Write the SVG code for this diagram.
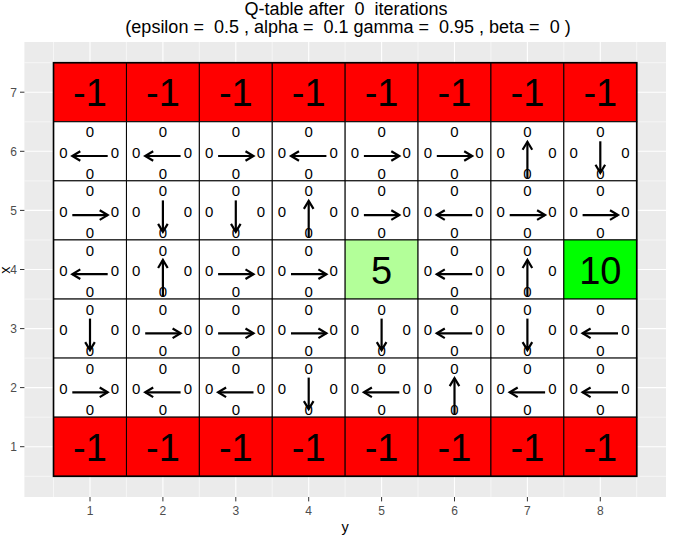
<svg xmlns="http://www.w3.org/2000/svg" width="682" height="542" viewBox="0 0 682 542">
<style>
text{font-family:"Liberation Sans",Arial,sans-serif;}
.title{font-size:18px;fill:#000;text-anchor:middle;white-space:pre;}
.tk{font-size:12px;fill:#4D4D4D;}
.at{font-size:14.5px;fill:#000;text-anchor:middle;}
.gmaj{stroke:#FFFFFF;stroke-width:1.1;}
.gmin{stroke:#FFFFFF;stroke-width:0.55;}
.tick{stroke:#333333;stroke-width:1;}
.cell{stroke:#000;stroke-width:1;}
.w{fill:#FFFFFF;}
.r{fill:#FF0000;}
.lg{fill:#B3FF99;}
.g{fill:#00FF00;}
.z{font-size:15px;fill:#000;text-anchor:middle;}
.big{font-size:38px;fill:#000;text-anchor:middle;}
.arr{stroke:#000;stroke-width:2.2;fill:none;marker-end:url(#ah);}
</style>
<defs>
<marker id="ah" markerUnits="userSpaceOnUse" markerWidth="20" markerHeight="20" refX="0" refY="0" orient="auto" overflow="visible">
<path d="M-8,-4.8 L0,0 L-8,4.8" fill="none" stroke="#000" stroke-width="2.2"/>
</marker>
<g id="zeros">
<text class="z" x="0" y="-14">0</text>
<text class="z" x="0" y="27.5">0</text>
<text class="z" x="-26.7" y="6.5">0</text>
<text class="z" x="25" y="6.5">0</text>
</g>
</defs>
<rect x="0" y="0" width="682" height="542" fill="#FFFFFF"/>
<text class="title" x="346" y="15" xml:space="preserve">Q-table after  0  iterations</text>
<text class="title" x="348" y="33" xml:space="preserve">(epsilon =  0.5 , alpha =  0.1 gamma =  0.95 , beta =  0 )</text>
<g id="panel">
<rect x="24.4" y="42" width="641.6" height="455" fill="#EBEBEB"/>
<g class="gmin">
<line x1="53.5" y1="42" x2="53.5" y2="497"/><line x1="126.4" y1="42" x2="126.4" y2="497"/><line x1="199.3" y1="42" x2="199.3" y2="497"/><line x1="272.2" y1="42" x2="272.2" y2="497"/><line x1="345.1" y1="42" x2="345.1" y2="497"/><line x1="418" y1="42" x2="418" y2="497"/><line x1="490.9" y1="42" x2="490.9" y2="497"/><line x1="563.8" y1="42" x2="563.8" y2="497"/><line x1="636.7" y1="42" x2="636.7" y2="497"/>
<line x1="24.4" y1="62.7" x2="666" y2="62.7"/><line x1="24.4" y1="121.8" x2="666" y2="121.8"/><line x1="24.4" y1="180.9" x2="666" y2="180.9"/><line x1="24.4" y1="240" x2="666" y2="240"/><line x1="24.4" y1="299.1" x2="666" y2="299.1"/><line x1="24.4" y1="358.1" x2="666" y2="358.1"/><line x1="24.4" y1="417.2" x2="666" y2="417.2"/><line x1="24.4" y1="476.3" x2="666" y2="476.3"/>
</g>
<g class="gmaj">
<line x1="90" y1="42" x2="90" y2="497"/><line x1="162.9" y1="42" x2="162.9" y2="497"/><line x1="235.8" y1="42" x2="235.8" y2="497"/><line x1="308.7" y1="42" x2="308.7" y2="497"/><line x1="381.6" y1="42" x2="381.6" y2="497"/><line x1="454.5" y1="42" x2="454.5" y2="497"/><line x1="527.4" y1="42" x2="527.4" y2="497"/><line x1="600.3" y1="42" x2="600.3" y2="497"/>
<line x1="24.4" y1="92.2" x2="666" y2="92.2"/><line x1="24.4" y1="151.3" x2="666" y2="151.3"/><line x1="24.4" y1="210.4" x2="666" y2="210.4"/><line x1="24.4" y1="269.5" x2="666" y2="269.5"/><line x1="24.4" y1="328.6" x2="666" y2="328.6"/><line x1="24.4" y1="387.6" x2="666" y2="387.6"/><line x1="24.4" y1="446.7" x2="666" y2="446.7"/>
</g>
</g>
<g id="axes">
<g class="tick">
<line x1="20" y1="92.2" x2="24.4" y2="92.2"/><line x1="20" y1="151.3" x2="24.4" y2="151.3"/><line x1="20" y1="210.4" x2="24.4" y2="210.4"/><line x1="20" y1="269.5" x2="24.4" y2="269.5"/><line x1="20" y1="328.6" x2="24.4" y2="328.6"/><line x1="20" y1="387.6" x2="24.4" y2="387.6"/><line x1="20" y1="446.7" x2="24.4" y2="446.7"/>
<line x1="90" y1="497" x2="90" y2="501.4"/><line x1="162.9" y1="497" x2="162.9" y2="501.4"/><line x1="235.8" y1="497" x2="235.8" y2="501.4"/><line x1="308.7" y1="497" x2="308.7" y2="501.4"/><line x1="381.6" y1="497" x2="381.6" y2="501.4"/><line x1="454.5" y1="497" x2="454.5" y2="501.4"/><line x1="527.4" y1="497" x2="527.4" y2="501.4"/><line x1="600.3" y1="497" x2="600.3" y2="501.4"/>
</g>
<g class="tk" text-anchor="end">
<text x="17" y="96.5">7</text><text x="17" y="155.6">6</text><text x="17" y="214.7">5</text><text x="17" y="273.8">4</text><text x="17" y="332.9">3</text><text x="17" y="391.9">2</text><text x="17" y="451">1</text>
</g>
<g class="tk" text-anchor="middle">
<text x="90" y="515">1</text><text x="162.9" y="515">2</text><text x="235.8" y="515">3</text><text x="308.7" y="515">4</text><text x="381.6" y="515">5</text><text x="454.5" y="515">6</text><text x="527.4" y="515">7</text><text x="600.3" y="515">8</text>
</g>
<text class="at" x="345" y="532">y</text>
<text class="at" transform="translate(9.5,270) rotate(-90)">x</text>
</g>
<g id="cells">
<g id="r7c1" transform="translate(90,92.2)"><rect class="cell r" x="-36.45" y="-29.55" width="72.9" height="59.1"/><text class="big" y="14">-1</text></g>
<g id="r7c2" transform="translate(162.9,92.2)"><rect class="cell r" x="-36.45" y="-29.55" width="72.9" height="59.1"/><text class="big" y="14">-1</text></g>
<g id="r7c3" transform="translate(235.8,92.2)"><rect class="cell r" x="-36.45" y="-29.55" width="72.9" height="59.1"/><text class="big" y="14">-1</text></g>
<g id="r7c4" transform="translate(308.7,92.2)"><rect class="cell r" x="-36.45" y="-29.55" width="72.9" height="59.1"/><text class="big" y="14">-1</text></g>
<g id="r7c5" transform="translate(381.6,92.2)"><rect class="cell r" x="-36.45" y="-29.55" width="72.9" height="59.1"/><text class="big" y="14">-1</text></g>
<g id="r7c6" transform="translate(454.5,92.2)"><rect class="cell r" x="-36.45" y="-29.55" width="72.9" height="59.1"/><text class="big" y="14">-1</text></g>
<g id="r7c7" transform="translate(527.4,92.2)"><rect class="cell r" x="-36.45" y="-29.55" width="72.9" height="59.1"/><text class="big" y="14">-1</text></g>
<g id="r7c8" transform="translate(600.3,92.2)"><rect class="cell r" x="-36.45" y="-29.55" width="72.9" height="59.1"/><text class="big" y="14">-1</text></g>

<g id="r6c1" transform="translate(90,151.3)"><rect class="cell w" x="-36.45" y="-29.55" width="72.9" height="59.1"/><use href="#zeros"/></g>
<g id="r6c2" transform="translate(162.9,151.3)"><rect class="cell w" x="-36.45" y="-29.55" width="72.9" height="59.1"/><use href="#zeros"/></g>
<g id="r6c3" transform="translate(235.8,151.3)"><rect class="cell w" x="-36.45" y="-29.55" width="72.9" height="59.1"/><use href="#zeros"/></g>
<g id="r6c4" transform="translate(308.7,151.3)"><rect class="cell w" x="-36.45" y="-29.55" width="72.9" height="59.1"/><use href="#zeros"/></g>
<g id="r6c5" transform="translate(381.6,151.3)"><rect class="cell w" x="-36.45" y="-29.55" width="72.9" height="59.1"/><use href="#zeros"/></g>
<g id="r6c6" transform="translate(454.5,151.3)"><rect class="cell w" x="-36.45" y="-29.55" width="72.9" height="59.1"/><use href="#zeros"/></g>
<g id="r6c7" transform="translate(527.4,151.3)"><rect class="cell w" x="-36.45" y="-29.55" width="72.9" height="59.1"/><use href="#zeros"/></g>
<g id="r6c8" transform="translate(600.3,151.3)"><rect class="cell w" x="-36.45" y="-29.55" width="72.9" height="59.1"/><use href="#zeros"/></g>

<g id="r5c1" transform="translate(90,210.4)"><rect class="cell w" x="-36.45" y="-29.55" width="72.9" height="59.1"/><use href="#zeros"/></g>
<g id="r5c2" transform="translate(162.9,210.4)"><rect class="cell w" x="-36.45" y="-29.55" width="72.9" height="59.1"/><use href="#zeros"/></g>
<g id="r5c3" transform="translate(235.8,210.4)"><rect class="cell w" x="-36.45" y="-29.55" width="72.9" height="59.1"/><use href="#zeros"/></g>
<g id="r5c4" transform="translate(308.7,210.4)"><rect class="cell w" x="-36.45" y="-29.55" width="72.9" height="59.1"/><use href="#zeros"/></g>
<g id="r5c5" transform="translate(381.6,210.4)"><rect class="cell w" x="-36.45" y="-29.55" width="72.9" height="59.1"/><use href="#zeros"/></g>
<g id="r5c6" transform="translate(454.5,210.4)"><rect class="cell w" x="-36.45" y="-29.55" width="72.9" height="59.1"/><use href="#zeros"/></g>
<g id="r5c7" transform="translate(527.4,210.4)"><rect class="cell w" x="-36.45" y="-29.55" width="72.9" height="59.1"/><use href="#zeros"/></g>
<g id="r5c8" transform="translate(600.3,210.4)"><rect class="cell w" x="-36.45" y="-29.55" width="72.9" height="59.1"/><use href="#zeros"/></g>

<g id="r4c1" transform="translate(90,269.5)"><rect class="cell w" x="-36.45" y="-29.55" width="72.9" height="59.1"/><use href="#zeros"/></g>
<g id="r4c2" transform="translate(162.9,269.5)"><rect class="cell w" x="-36.45" y="-29.55" width="72.9" height="59.1"/><use href="#zeros"/></g>
<g id="r4c3" transform="translate(235.8,269.5)"><rect class="cell w" x="-36.45" y="-29.55" width="72.9" height="59.1"/><use href="#zeros"/></g>
<g id="r4c4" transform="translate(308.7,269.5)"><rect class="cell w" x="-36.45" y="-29.55" width="72.9" height="59.1"/><use href="#zeros"/></g>
<g id="r4c5" transform="translate(381.6,269.5)"><rect class="cell lg" x="-36.45" y="-29.55" width="72.9" height="59.1"/><text class="big" y="14">5</text></g>
<g id="r4c6" transform="translate(454.5,269.5)"><rect class="cell w" x="-36.45" y="-29.55" width="72.9" height="59.1"/><use href="#zeros"/></g>
<g id="r4c7" transform="translate(527.4,269.5)"><rect class="cell w" x="-36.45" y="-29.55" width="72.9" height="59.1"/><use href="#zeros"/></g>
<g id="r4c8" transform="translate(600.3,269.5)"><rect class="cell g" x="-36.45" y="-29.55" width="72.9" height="59.1"/><text class="big" y="14">10</text></g>

<g id="r3c1" transform="translate(90,328.6)"><rect class="cell w" x="-36.45" y="-29.55" width="72.9" height="59.1"/><use href="#zeros"/></g>
<g id="r3c2" transform="translate(162.9,328.6)"><rect class="cell w" x="-36.45" y="-29.55" width="72.9" height="59.1"/><use href="#zeros"/></g>
<g id="r3c3" transform="translate(235.8,328.6)"><rect class="cell w" x="-36.45" y="-29.55" width="72.9" height="59.1"/><use href="#zeros"/></g>
<g id="r3c4" transform="translate(308.7,328.6)"><rect class="cell w" x="-36.45" y="-29.55" width="72.9" height="59.1"/><use href="#zeros"/></g>
<g id="r3c5" transform="translate(381.6,328.6)"><rect class="cell w" x="-36.45" y="-29.55" width="72.9" height="59.1"/><use href="#zeros"/></g>
<g id="r3c6" transform="translate(454.5,328.6)"><rect class="cell w" x="-36.45" y="-29.55" width="72.9" height="59.1"/><use href="#zeros"/></g>
<g id="r3c7" transform="translate(527.4,328.6)"><rect class="cell w" x="-36.45" y="-29.55" width="72.9" height="59.1"/><use href="#zeros"/></g>
<g id="r3c8" transform="translate(600.3,328.6)"><rect class="cell w" x="-36.45" y="-29.55" width="72.9" height="59.1"/><use href="#zeros"/></g>

<g id="r2c1" transform="translate(90,387.6)"><rect class="cell w" x="-36.45" y="-29.55" width="72.9" height="59.1"/><use href="#zeros"/></g>
<g id="r2c2" transform="translate(162.9,387.6)"><rect class="cell w" x="-36.45" y="-29.55" width="72.9" height="59.1"/><use href="#zeros"/></g>
<g id="r2c3" transform="translate(235.8,387.6)"><rect class="cell w" x="-36.45" y="-29.55" width="72.9" height="59.1"/><use href="#zeros"/></g>
<g id="r2c4" transform="translate(308.7,387.6)"><rect class="cell w" x="-36.45" y="-29.55" width="72.9" height="59.1"/><use href="#zeros"/></g>
<g id="r2c5" transform="translate(381.6,387.6)"><rect class="cell w" x="-36.45" y="-29.55" width="72.9" height="59.1"/><use href="#zeros"/></g>
<g id="r2c6" transform="translate(454.5,387.6)"><rect class="cell w" x="-36.45" y="-29.55" width="72.9" height="59.1"/><use href="#zeros"/></g>
<g id="r2c7" transform="translate(527.4,387.6)"><rect class="cell w" x="-36.45" y="-29.55" width="72.9" height="59.1"/><use href="#zeros"/></g>
<g id="r2c8" transform="translate(600.3,387.6)"><rect class="cell w" x="-36.45" y="-29.55" width="72.9" height="59.1"/><use href="#zeros"/></g>

<g id="r1c1" transform="translate(90,446.7)"><rect class="cell r" x="-36.45" y="-29.55" width="72.9" height="59.1"/><text class="big" y="14">-1</text></g>
<g id="r1c2" transform="translate(162.9,446.7)"><rect class="cell r" x="-36.45" y="-29.55" width="72.9" height="59.1"/><text class="big" y="14">-1</text></g>
<g id="r1c3" transform="translate(235.8,446.7)"><rect class="cell r" x="-36.45" y="-29.55" width="72.9" height="59.1"/><text class="big" y="14">-1</text></g>
<g id="r1c4" transform="translate(308.7,446.7)"><rect class="cell r" x="-36.45" y="-29.55" width="72.9" height="59.1"/><text class="big" y="14">-1</text></g>
<g id="r1c5" transform="translate(381.6,446.7)"><rect class="cell r" x="-36.45" y="-29.55" width="72.9" height="59.1"/><text class="big" y="14">-1</text></g>
<g id="r1c6" transform="translate(454.5,446.7)"><rect class="cell r" x="-36.45" y="-29.55" width="72.9" height="59.1"/><text class="big" y="14">-1</text></g>
<g id="r1c7" transform="translate(527.4,446.7)"><rect class="cell r" x="-36.45" y="-29.55" width="72.9" height="59.1"/><text class="big" y="14">-1</text></g>
<g id="r1c8" transform="translate(600.3,446.7)"><rect class="cell r" x="-36.45" y="-29.55" width="72.9" height="59.1"/><text class="big" y="14">-1</text></g>
<rect x="53.5" y="62.7" width="583.2" height="413.6" fill="none" stroke="#000" stroke-width="1.6"/>
</g>
<g id="connectors">
<line class="arr" x1="107.7" y1="156" x2="72.3" y2="156"/>
<line class="arr" x1="180.6" y1="156" x2="145.2" y2="156"/>
<line class="arr" x1="218.1" y1="156" x2="253.5" y2="156"/>
<line class="arr" x1="326.4" y1="156" x2="291" y2="156"/>
<line class="arr" x1="363.9" y1="156" x2="399.3" y2="156"/>
<line class="arr" x1="436.8" y1="156" x2="472.2" y2="156"/>
<line class="arr" x1="527.4" y1="178.3" x2="527.4" y2="141.8"/>
<line class="arr" x1="600.3" y1="141.3" x2="600.3" y2="172.8"/>

<line class="arr" x1="72.3" y1="215.1" x2="107.7" y2="215.1"/>
<line class="arr" x1="162.9" y1="200.4" x2="162.9" y2="231.9"/>
<line class="arr" x1="235.8" y1="200.4" x2="235.8" y2="231.9"/>
<line class="arr" x1="308.7" y1="237.4" x2="308.7" y2="200.9"/>
<line class="arr" x1="363.9" y1="215.1" x2="399.3" y2="215.1"/>
<line class="arr" x1="472.2" y1="215.1" x2="436.8" y2="215.1"/>
<line class="arr" x1="509.7" y1="215.1" x2="545.1" y2="215.1"/>
<line class="arr" x1="582.6" y1="215.1" x2="618" y2="215.1"/>

<line class="arr" x1="107.7" y1="274.2" x2="72.3" y2="274.2"/>
<line class="arr" x1="162.9" y1="296.5" x2="162.9" y2="260"/>
<line class="arr" x1="218.1" y1="274.2" x2="253.5" y2="274.2"/>
<line class="arr" x1="291" y1="274.2" x2="326.4" y2="274.2"/>
<line class="arr" x1="472.2" y1="274.2" x2="436.8" y2="274.2"/>
<line class="arr" x1="527.4" y1="296.5" x2="527.4" y2="260"/>

<line class="arr" x1="90" y1="318.6" x2="90" y2="350.1"/>
<line class="arr" x1="145.2" y1="333.3" x2="180.6" y2="333.3"/>
<line class="arr" x1="218.1" y1="333.3" x2="253.5" y2="333.3"/>
<line class="arr" x1="291" y1="333.3" x2="326.4" y2="333.3"/>
<line class="arr" x1="381.6" y1="318.6" x2="381.6" y2="350.1"/>
<line class="arr" x1="472.2" y1="333.3" x2="436.8" y2="333.3"/>
<line class="arr" x1="527.4" y1="318.6" x2="527.4" y2="350.1"/>
<line class="arr" x1="618" y1="333.3" x2="582.6" y2="333.3"/>

<line class="arr" x1="72.3" y1="392.3" x2="107.7" y2="392.3"/>
<line class="arr" x1="180.6" y1="392.3" x2="145.2" y2="392.3"/>
<line class="arr" x1="253.5" y1="392.3" x2="218.1" y2="392.3"/>
<line class="arr" x1="308.7" y1="377.6" x2="308.7" y2="409.1"/>
<line class="arr" x1="399.3" y1="392.3" x2="363.9" y2="392.3"/>
<line class="arr" x1="454.5" y1="414.6" x2="454.5" y2="378.1"/>
<line class="arr" x1="545.1" y1="392.3" x2="509.7" y2="392.3"/>
<line class="arr" x1="618" y1="392.3" x2="582.6" y2="392.3"/>
</g>
</svg>
